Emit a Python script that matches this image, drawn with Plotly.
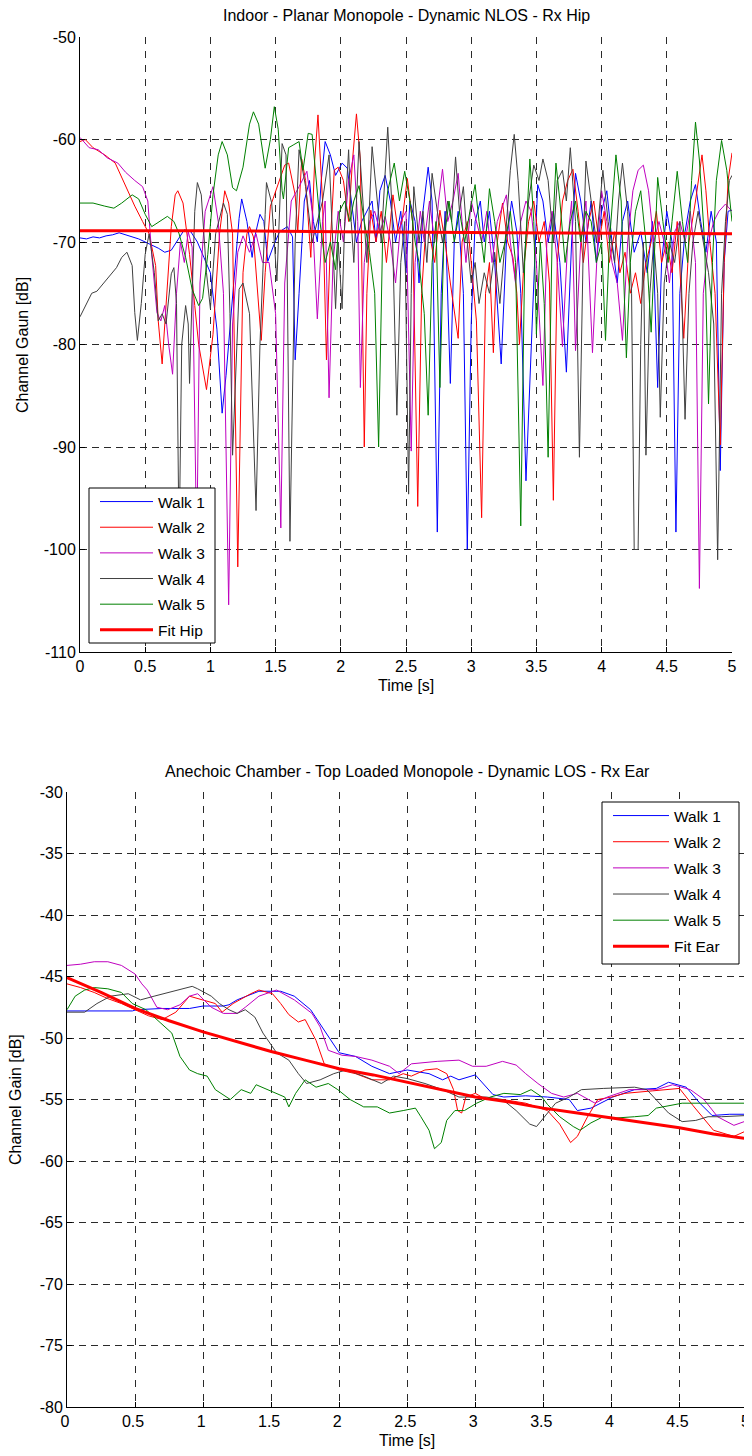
import plotly.graph_objects as go

# ---------------- data ----------------
x_ticks = [0, 0.5, 1, 1.5, 2, 2.5, 3, 3.5, 4, 4.5, 5]
x_tick_text = ["0", "0.5", "1", "1.5", "2", "2.5", "3", "3.5", "4", "4.5", "5"]
hip_y_ticks = [-110, -100, -90, -80, -70, -60, -50]
ear_y_ticks = [-80, -75, -70, -65, -60, -55, -50, -45, -40, -35, -30]

walk_names = ["Walk 1", "Walk 2", "Walk 3", "Walk 4", "Walk 5"]

# Top chart: Indoor, Rx Hip  (time [s], gain [dB])
hip_walk1 = [(0,-69.6),(0.05,-69.7),(0.1,-69.5),(0.15,-69.6),(0.2,-69.4),(0.25,-69.3),(0.3,-69.1),(0.35,-69.3),(0.4,-69.5),(0.45,-69.7),(0.5,-70.0),(0.55,-70.3),(0.6,-70.6),(0.65,-71.0),(0.7,-70.8),(0.75,-69.8),(0.8,-68.8),(0.85,-69.0),(0.9,-70.0),(0.95,-71.5),(1.0,-73.0),(1.05,-78.5),(1.09,-86.7),(1.12,-83),(1.17,-75),(1.22,-67.7),(1.24,-65.8),(1.28,-68.0),(1.32,-71.5),(1.34,-69.5),(1.38,-67.3),(1.41,-68.0),(1.44,-71.9),(1.48,-70.5),(1.53,-69.0),(1.59,-68.5),(1.63,-69.5),(1.65,-81.5),(1.68,-75),(1.72,-66),(1.76,-64),(1.79,-68),(1.82,-70),(1.85,-64),(1.88,-60.2),(1.92,-61.5),(1.96,-63.5),(2.01,-62.3),(2.05,-62.8),(2.08,-66),(2.12,-70),(2.16,-68),(2.2,-67),(2.24,-66),(2.27,-70),(2.3,-65),(2.34,-63.5),(2.38,-66),(2.42,-70),(2.46,-67),(2.5,-73),(2.53,-66),(2.57,-68),(2.6,-74),(2.63,-67),(2.67,-62.7),(2.7,-66),(2.74,-98.3),(2.77,-75),(2.8,-67),(2.84,-83.8),(2.87,-70),(2.9,-67),(2.94,-75),(2.97,-100),(3.0,-78),(3.03,-68),(3.07,-66),(3.1,-70),(3.14,-67),(3.18,-72),(3.23,-81.9),(3.27,-70),(3.31,-66),(3.35,-69),(3.38,-75),(3.42,-93.3),(3.46,-80),(3.51,-64.4),(3.55,-66),(3.59,-70),(3.63,-67),(3.68,-72),(3.73,-82.7),(3.77,-70),(3.8,-63.3),(3.84,-66),(3.88,-70),(3.92,-66),(3.96,-72),(4.0,-67),(4.04,-65),(4.08,-70),(4.12,-74),(4.16,-68),(4.2,-66),(4.25,-71),(4.3,-69),(4.35,-73),(4.39,-68),(4.43,-84.2),(4.46,-72),(4.5,-67),(4.54,-70),(4.57,-98.3),(4.6,-75),(4.64,-69),(4.68,-66),(4.72,-64.4),(4.76,-68),(4.8,-71),(4.84,-67),(4.88,-70),(4.91,-92.3),(4.94,-72),(4.97,-67),(5.0,-66.9)]
hip_walk2 = [(0,-60.2),(0.04,-60.0),(0.1,-60.8),(0.19,-61.5),(0.27,-62.3),(0.35,-64.6),(0.42,-66.5),(0.48,-68.0),(0.53,-69.2),(0.58,-72.3),(0.6,-77.7),(0.63,-81.9),(0.66,-76),(0.7,-68.5),(0.73,-65.4),(0.75,-65.0),(0.79,-66.2),(0.84,-71.2),(0.88,-76.2),(0.91,-80),(0.97,-84.4),(1.02,-79),(1.07,-69.2),(1.11,-65),(1.14,-66.2),(1.17,-69.2),(1.21,-101.7),(1.25,-73),(1.28,-69.2),(1.30,-68.5),(1.33,-69.5),(1.37,-76),(1.39,-79.6),(1.42,-73),(1.46,-66.5),(1.48,-65.8),(1.53,-64),(1.57,-62.5),(1.6,-62.3),(1.63,-64),(1.65,-65.4),(1.67,-69),(1.70,-61.9),(1.73,-64),(1.77,-71.5),(1.8,-62),(1.825,-57.6),(1.86,-66),(1.89,-81.5),(1.92,-70),(1.95,-63),(1.98,-62.7),(2.02,-64),(2.06,-68),(2.09,-62),(2.12,-57.5),(2.15,-62),(2.18,-90),(2.2,-75),(2.23,-66.9),(2.27,-70),(2.31,-67),(2.35,-72),(2.4,-65.4),(2.44,-69),(2.47,-68),(2.51,-63.8),(2.55,-68),(2.59,-95.8),(2.62,-75),(2.65,-69),(2.68,-69.2),(2.72,-72),(2.76,-66.9),(2.8,-70),(2.84,-74),(2.9,-79.4),(2.93,-70),(2.97,-68),(3.0,-72),(3.04,-77.7),(3.08,-96.9),(3.11,-75),(3.14,-72),(3.17,-80.8),(3.2,-70),(3.24,-66.2),(3.28,-70),(3.32,-71.5),(3.35,-75),(3.37,-80),(3.4,-73),(3.44,-68),(3.48,-66),(3.52,-70),(3.56,-68),(3.6,-74),(3.63,-95.2),(3.66,-72),(3.7,-66),(3.74,-64),(3.78,-62.9),(3.82,-67),(3.86,-72),(3.9,-68),(3.94,-66),(3.98,-70),(4.02,-67),(4.06,-72),(4.1,-69),(4.14,-73),(4.18,-71),(4.22,-75),(4.26,-73),(4.3,-76),(4.34,-72),(4.38,-70),(4.42,-67),(4.46,-72),(4.5,-70),(4.54,-73),(4.58,-68),(4.63,-79.4),(4.67,-70),(4.72,-66),(4.77,-61.5),(4.8,-65),(4.83,-70),(4.87,-75),(4.91,-89.8),(4.94,-72),(4.97,-64),(5.0,-61.3)]
hip_walk3 = [(0,-59.8),(0.07,-60.8),(0.14,-61),(0.21,-61.8),(0.29,-62.3),(0.35,-63.2),(0.42,-64),(0.48,-64.6),(0.52,-66),(0.55,-71.2),(0.59,-76.9),(0.62,-77.7),(0.65,-76.2),(0.68,-80),(0.71,-82.9),(0.74,-75),(0.77,-70),(0.8,-72),(0.83,-69),(0.86,-70.5),(0.895,-100),(0.92,-74),(0.96,-67),(1.02,-64.6),(1.06,-68),(1.1,-75),(1.14,-105.4),(1.17,-78),(1.21,-71),(1.25,-69.4),(1.3,-71),(1.35,-69.2),(1.4,-72),(1.45,-72),(1.5,-77),(1.54,-97.9),(1.57,-74),(1.62,-66),(1.68,-64.6),(1.74,-63.1),(1.78,-67),(1.82,-77.5),(1.86,-68),(1.88,-66),(1.91,-85.2),(1.94,-72),(1.98,-67),(2.02,-70),(2.06,-64),(2.1,-61.5),(2.13,-68),(2.15,-84.2),(2.18,-72),(2.22,-68),(2.26,-67),(2.3,-69),(2.34,-67.5),(2.38,-70),(2.42,-74),(2.46,-68),(2.5,-67),(2.54,-90.4),(2.57,-72),(2.61,-67),(2.64,-70),(2.68,-66),(2.72,-70),(2.75,-66),(2.78,-62.9),(2.82,-68),(2.86,-66),(2.9,-63.3),(2.93,-68),(2.96,-72),(3.0,-66),(3.04,-68),(3.08,-70),(3.12,-67),(3.16,-72),(3.2,-68),(3.24,-66.5),(3.27,-65.4),(3.3,-70),(3.34,-74),(3.38,-68),(3.42,-66),(3.46,-67),(3.5,-72),(3.55,-84),(3.58,-70),(3.62,-67),(3.66,-72),(3.7,-80.2),(3.74,-70),(3.77,-66),(3.8,-80.6),(3.84,-70),(3.88,-66),(3.93,-80.8),(3.97,-70),(4.0,-65),(4.04,-68),(4.08,-72),(4.12,-74),(4.16,-79.6),(4.2,-70),(4.24,-65),(4.28,-63),(4.32,-62.5),(4.36,-65),(4.4,-70),(4.44,-68),(4.48,-70),(4.52,-74),(4.56,-69),(4.6,-68),(4.64,-70),(4.68,-67),(4.72,-72),(4.75,-103.8),(4.78,-75),(4.82,-70),(4.86,-68),(4.9,-67),(4.95,-66.3),(5.0,-67)]
hip_walk4 = [(0,-77.3),(0.04,-76.2),(0.09,-75),(0.13,-74.8),(0.17,-74.2),(0.21,-73.5),(0.24,-73.1),(0.28,-72.5),(0.32,-71.5),(0.36,-71),(0.4,-72.3),(0.42,-76.9),(0.44,-79.6),(0.47,-76),(0.5,-71.2),(0.53,-69.2),(0.57,-73),(0.6,-77.7),(0.63,-77),(0.66,-78),(0.7,-73.1),(0.72,-72.5),(0.74,-76),(0.76,-100),(0.78,-80),(0.81,-76.2),(0.83,-78),(0.84,-83.8),(0.86,-75),(0.88,-67),(0.9,-64.2),(0.93,-65.4),(0.97,-73),(1.0,-76.5),(1.04,-69.2),(1.1,-66.2),(1.13,-67.3),(1.15,-77),(1.17,-90.8),(1.2,-80),(1.22,-74.6),(1.25,-74),(1.3,-77),(1.35,-96.2),(1.38,-80),(1.42,-67.3),(1.43,-64.2),(1.47,-66.2),(1.51,-73.8),(1.55,-60.4),(1.58,-61.5),(1.61,-99.2),(1.65,-70),(1.68,-61),(1.73,-64.6),(1.78,-70),(1.82,-68),(1.86,-66),(1.91,-61.5),(1.94,-70),(1.96,-76.5),(1.98,-70),(2.01,-76.5),(2.03,-68),(2.06,-61),(2.08,-68),(2.1,-72),(2.14,-60.2),(2.17,-66),(2.2,-72),(2.24,-60.7),(2.28,-66),(2.31,-70),(2.36,-58.8),(2.39,-66),(2.43,-86.9),(2.46,-72),(2.49,-68),(2.52,-94.6),(2.54,-75),(2.56,-64.6),(2.6,-70),(2.63,-67),(2.66,-72),(2.7,-63.3),(2.74,-67),(2.78,-70),(2.82,-66),(2.85,-68),(2.88,-61.7),(2.91,-67),(2.94,-64.6),(2.97,-70),(3.0,-74),(3.03,-72),(3.06,-76),(3.1,-73),(3.14,-75),(3.18,-71),(3.22,-76),(3.26,-70),(3.3,-63),(3.33,-59.5),(3.36,-64),(3.4,-73),(3.44,-66),(3.48,-62.5),(3.52,-64),(3.55,-61.9),(3.59,-64),(3.63,-70),(3.66,-64),(3.7,-63),(3.73,-66),(3.76,-60.8),(3.8,-68),(3.83,-91),(3.86,-70),(3.88,-62.1),(3.92,-66),(3.96,-70),(4.01,-63),(4.05,-68),(4.1,-72),(4.13,-66),(4.16,-62.3),(4.2,-67),(4.23,-75),(4.25,-100),(4.28,-100),(4.3,-80),(4.32,-70),(4.34,-90.8),(4.37,-75),(4.4,-70),(4.43,-75),(4.45,-87.1),(4.48,-74),(4.52,-70),(4.56,-72),(4.6,-68),(4.64,-87.3),(4.67,-75),(4.7,-70),(4.74,-67),(4.78,-70),(4.82,-73),(4.86,-78),(4.89,-101),(4.92,-75),(4.95,-68),(4.98,-64),(5.0,-63.5)]
hip_walk5 = [(0,-66.2),(0.1,-66.2),(0.19,-66.5),(0.26,-66.7),(0.32,-66.2),(0.4,-65.4),(0.45,-65.8),(0.5,-67.3),(0.55,-68.5),(0.6,-68.1),(0.67,-67.5),(0.72,-68),(0.76,-69.2),(0.81,-71.5),(0.86,-74.6),(0.91,-76.2),(0.94,-75.5),(0.98,-71.2),(1.02,-65.4),(1.06,-61.5),(1.09,-60.2),(1.13,-61.5),(1.17,-64.7),(1.2,-65),(1.25,-62.7),(1.3,-58.5),(1.33,-57.3),(1.37,-58.5),(1.4,-61),(1.42,-62.8),(1.46,-60),(1.49,-56.8),(1.52,-59),(1.55,-65),(1.56,-65.8),(1.6,-60.8),(1.64,-60.5),(1.68,-60.2),(1.71,-63),(1.75,-59.4),(1.78,-59.5),(1.81,-64),(1.84,-68),(1.88,-72),(1.92,-70),(1.96,-72.7),(1.99,-67),(2.03,-66),(2.07,-68),(2.1,-66),(2.14,-64.5),(2.18,-68),(2.22,-71),(2.26,-75),(2.29,-90),(2.32,-70),(2.36,-65),(2.41,-62.3),(2.45,-66),(2.49,-63.1),(2.53,-66),(2.57,-70),(2.6,-72),(2.64,-77),(2.67,-86.9),(2.7,-72),(2.73,-68),(2.76,-84.2),(2.79,-70),(2.83,-66),(2.87,-70),(2.91,-67),(2.95,-70),(2.99,-67),(3.03,-64.4),(3.06,-68),(3.1,-72),(3.14,-64.8),(3.18,-68),(3.22,-72),(3.26,-70),(3.3,-67),(3.34,-72),(3.38,-97.7),(3.41,-72),(3.45,-61.9),(3.48,-68),(3.5,-79),(3.53,-70),(3.56,-76),(3.59,-91),(3.62,-70),(3.65,-62.3),(3.68,-66),(3.72,-72),(3.76,-68),(3.8,-66),(3.84,-70),(3.88,-67),(3.92,-68),(3.96,-72),(4.0,-70),(4.03,-79.6),(4.06,-70),(4.11,-61.5),(4.15,-66),(4.19,-81.3),(4.22,-72),(4.26,-67),(4.3,-65),(4.34,-70),(4.38,-78.8),(4.41,-70),(4.43,-63.7),(4.47,-68),(4.51,-72),(4.54,-68),(4.58,-63.1),(4.62,-68),(4.66,-72),(4.69,-64),(4.72,-58.3),(4.75,-62),(4.79,-70),(4.82,-85.8),(4.85,-72),(4.88,-64),(4.92,-60.1),(4.96,-63),(5.0,-68)]
hip_fit_t = [0, 1, 2, 3, 4, 5]
hip_fit_db = [-68.9, -68.9, -69.0, -69.05, -69.1, -69.2]

# Bottom chart: Anechoic chamber, Rx Ear
ear_walk1 = [(0,-47.8),(0.15,-47.8),(0.3,-47.8),(0.48,-47.8),(0.51,-47.7),(0.7,-47.6),(0.9,-47.6),(1.0,-47.4),(1.15,-47.4),(1.19,-47.3),(1.25,-46.9),(1.35,-46.5),(1.41,-46.2),(1.57,-46.2),(1.67,-46.6),(1.79,-47.7),(1.89,-49.4),(2.0,-51.2),(2.12,-51.5),(2.24,-52.3),(2.37,-52.9),(2.5,-52.6),(2.66,-52.9),(2.76,-53.4),(2.82,-53.1),(2.88,-53.4),(3.0,-53.0),(3.08,-54.0),(3.13,-54.6),(3.21,-54.8),(3.37,-54.7),(3.53,-54.8),(3.69,-55.0),(3.75,-55.9),(3.85,-55.7),(4.01,-54.8),(4.17,-54.2),(4.33,-54.1),(4.42,-53.6),(4.55,-54.0),(4.65,-55.3),(4.74,-56.3),(4.87,-56.2),(5.0,-56.2)]
ear_walk2 = [(0,-45.6),(0.1,-45.9),(0.2,-46.3),(0.3,-46.8),(0.4,-47.2),(0.5,-47.7),(0.6,-48.2),(0.7,-48.5),(0.8,-47.9),(0.9,-46.6),(0.99,-46.9),(1.09,-47.2),(1.14,-47.9),(1.22,-47.2),(1.35,-46.4),(1.41,-46.1),(1.51,-46.4),(1.57,-47.2),(1.63,-48.1),(1.70,-48.7),(1.75,-48.5),(1.83,-50.2),(1.89,-52.1),(2.0,-52.6),(2.12,-52.9),(2.24,-53.4),(2.37,-53.4),(2.47,-52.9),(2.53,-53.1),(2.63,-52.6),(2.72,-52.5),(2.79,-52.9),(2.84,-54.2),(2.87,-55.9),(2.9,-56.1),(2.93,-54.8),(3.0,-54.5),(3.08,-55.0),(3.2,-55.0),(3.37,-55.3),(3.53,-55.9),(3.62,-57.0),(3.7,-58.5),(3.75,-58.0),(3.82,-56.5),(3.9,-55.0),(4.0,-54.8),(4.1,-54.5),(4.3,-54.3),(4.5,-54.1),(4.6,-55.5),(4.75,-57.5),(4.9,-58.0),(5.0,-57.5)]
ear_walk3 = [(0,-44.1),(0.1,-44.0),(0.2,-43.8),(0.3,-43.8),(0.4,-44.1),(0.5,-44.8),(0.55,-45.6),(0.59,-46.1),(0.66,-47.5),(0.74,-47.7),(0.83,-47.3),(0.9,-46.6),(0.96,-46.4),(1.06,-47.5),(1.15,-48.0),(1.25,-48.0),(1.31,-47.5),(1.41,-46.6),(1.54,-46.1),(1.67,-46.9),(1.8,-48.0),(1.86,-49.1),(1.92,-51.0),(2.02,-51.4),(2.12,-51.5),(2.24,-51.8),(2.37,-52.3),(2.44,-52.9),(2.53,-52.1),(2.72,-51.9),(2.88,-51.8),(2.98,-52.3),(3.08,-52.3),(3.2,-51.9),(3.3,-52.2),(3.37,-52.9),(3.46,-53.7),(3.56,-54.5),(3.65,-54.8),(3.75,-54.5),(3.88,-55.3),(3.97,-54.8),(4.13,-54.2),(4.33,-54.2),(4.45,-53.8),(4.58,-54.2),(4.68,-55.0),(4.78,-56.4),(4.9,-57.1),(5.0,-56.7)]
ear_walk4 = [(0,-47.9),(0.13,-47.9),(0.22,-47.2),(0.32,-46.6),(0.45,-46.4),(0.54,-46.9),(0.64,-46.6),(0.75,-46.3),(0.83,-46.1),(0.92,-45.8),(0.96,-46.0),(1.06,-46.6),(1.12,-47.2),(1.19,-47.7),(1.25,-48.0),(1.31,-47.7),(1.38,-48.3),(1.44,-49.6),(1.54,-51.2),(1.63,-51.8),(1.7,-52.9),(1.76,-53.7),(1.86,-53.4),(1.96,-52.9),(2.05,-52.6),(2.18,-53.1),(2.31,-53.7),(2.4,-53.1),(2.5,-53.3),(2.63,-53.7),(2.76,-54.2),(2.88,-54.8),(3.08,-54.8),(3.2,-55.0),(3.3,-55.9),(3.4,-57.0),(3.45,-57.2),(3.51,-56.4),(3.59,-55.3),(3.69,-54.8),(3.78,-54.2),(3.94,-54.1),(4.17,-54.0),(4.26,-54.2),(4.33,-55.0),(4.42,-56.1),(4.52,-56.8),(4.62,-56.7),(4.71,-56.4),(4.81,-56.4),(5.0,-56.3)]
ear_walk5 = [(0,-47.7),(0.06,-46.6),(0.13,-46.1),(0.2,-45.9),(0.3,-46.0),(0.4,-46.3),(0.48,-47.2),(0.58,-47.7),(0.69,-48.8),(0.77,-49.6),(0.83,-51.5),(0.9,-52.6),(0.96,-52.9),(1.03,-53.1),(1.09,-54.2),(1.2,-55.0),(1.28,-54.2),(1.35,-54.5),(1.39,-53.8),(1.47,-54.2),(1.54,-54.5),(1.6,-54.8),(1.63,-55.6),(1.68,-54.5),(1.75,-53.4),(1.83,-54.0),(1.92,-53.7),(1.99,-54.2),(2.08,-55.0),(2.18,-55.6),(2.28,-55.6),(2.37,-56.1),(2.47,-55.9),(2.56,-55.7),(2.6,-56.4),(2.66,-57.5),(2.7,-59.0),(2.75,-58.5),(2.79,-56.7),(2.85,-55.9),(2.92,-55.9),(3.01,-55.3),(3.11,-54.8),(3.21,-54.5),(3.33,-54.6),(3.41,-54.2),(3.49,-54.8),(3.53,-55.4),(3.62,-56.4),(3.72,-57.2),(3.77,-57.5),(3.85,-56.9),(3.94,-56.4),(4.04,-56.5),(4.17,-56.4),(4.27,-56.3),(4.33,-55.7),(4.42,-55.5),(4.52,-55.3),(4.7,-55.3),(5.0,-55.3)]
ear_fit_t = [0, 0.25, 0.5, 0.75, 1.0, 1.25, 1.5, 1.75, 2.0, 2.25, 2.5, 2.75, 3.0, 3.25, 3.5, 3.75, 4.0, 4.25, 4.5, 4.75, 5.0]
ear_fit_db = [-45.1, -46.3, -47.6, -48.6, -49.5, -50.3, -51.1, -51.8, -52.5, -53.0, -53.6, -54.2, -54.8, -55.2, -55.7, -56.1, -56.5, -56.9, -57.3, -57.8, -58.2]

# ---------------- styling ----------------
PAGE_W, PAGE_H = 752, 1456
BODY = 8                       # default page margin around the plot div
W, H = PAGE_W - BODY, PAGE_H - BODY
FONT = "Liberation Sans, Arial, Helvetica, sans-serif"
walk_colors = ["#0000FF", "#FF0000", "#BF00BF", "#404040", "#008000"]
FIT_COLOR = "#FF0000"


def fx(p):
    """page pixel x -> paper fraction"""
    return (p - BODY) / W


def fy(p):
    """page pixel y -> paper fraction"""
    return 1 - (p - BODY) / H


fig = go.Figure()

hip_walks = [hip_walk1, hip_walk2, hip_walk3, hip_walk4, hip_walk5]
ear_walks = [ear_walk1, ear_walk2, ear_walk3, ear_walk4, ear_walk5]

for i, (name, pts) in enumerate(zip(walk_names, hip_walks)):
    fig.add_trace(go.Scatter(
        x=[p[0] for p in pts], y=[p[1] for p in pts], mode="lines", name=name,
        line=dict(color=walk_colors[i], width=1), xaxis="x", yaxis="y",
        legend="legend", legendgroup="h%d" % i))
fig.add_trace(go.Scatter(
    x=hip_fit_t, y=hip_fit_db, mode="lines", name="Fit Hip",
    line=dict(color=FIT_COLOR, width=3), xaxis="x", yaxis="y",
    legend="legend", legendgroup="hfit"))

for i, (name, pts) in enumerate(zip(walk_names, ear_walks)):
    fig.add_trace(go.Scatter(
        x=[p[0] for p in pts], y=[p[1] for p in pts], mode="lines", name=name,
        line=dict(color=walk_colors[i], width=1), xaxis="x2", yaxis="y2",
        legend="legend2", legendgroup="e%d" % i))
fig.add_trace(go.Scatter(
    x=ear_fit_t, y=ear_fit_db, mode="lines", name="Fit Ear",
    line=dict(color=FIT_COLOR, width=3), xaxis="x2", yaxis="y2",
    legend="legend2", legendgroup="efit"))

tick_font = dict(family=FONT, size=16, color="#000000")
common = dict(showline=True, linecolor="#000000", linewidth=1, mirror=False,
              ticks="inside", ticklen=5, tickcolor="#000000", tickwidth=1,
              showgrid=True, gridcolor="#2a2a2a", gridwidth=1, zeroline=False,
              tickfont=tick_font, fixedrange=True, automargin=False,
              ticklabeloverflow="allow")

fig.update_layout(
    template="none",
    width=W, height=H, margin=dict(l=0, r=0, t=0, b=0, pad=0),
    paper_bgcolor="white", plot_bgcolor="white", showlegend=True,
    xaxis=dict(domain=[fx(80), fx(732)], anchor="y", range=[0, 5],
               tickvals=x_ticks, ticktext=x_tick_text, griddash="7px,7px", **common),
    yaxis=dict(domain=[fy(652), fy(37)], anchor="x", range=[-110, -50],
               tickvals=hip_y_ticks, ticktext=[str(v) for v in hip_y_ticks],
               griddash="7px,5px", **common),
    xaxis2=dict(domain=[fx(67), fx(747.5)], anchor="y2", range=[0, 5],
                tickvals=x_ticks, ticktext=x_tick_text, griddash="7px,7px",
                ticklabelshift=-2, **common),
    yaxis2=dict(domain=[fy(1407), fy(792)], anchor="x2", range=[-80, -30],
                tickvals=ear_y_ticks, ticktext=[str(v) for v in ear_y_ticks],
                griddash="7px,5px", **common),
    legend=dict(x=fx(95), y=fy(485), xanchor="left", yanchor="top", itemwidth=53,
                bgcolor="rgba(0,0,0,0)", borderwidth=0, tracegroupgap=2.5,
                font=dict(family=FONT, size=15.5, color="#000000")),
    legend2=dict(x=fx(608), y=fy(799), xanchor="left", yanchor="top", itemwidth=56,
                 bgcolor="rgba(0,0,0,0)", borderwidth=0, tracegroupgap=3,
                 font=dict(family=FONT, size=15.5, color="#000000")),
    shapes=[
        dict(type="rect", xref="paper", yref="paper", x0=fx(89), x1=fx(215),
             y0=fy(643), y1=fy(488), fillcolor="white",
             line=dict(color="#000000", width=1), layer="above"),
        dict(type="rect", xref="paper", yref="paper", x0=fx(602), x1=fx(739),
             y0=fy(964), y1=fy(802), fillcolor="white",
             line=dict(color="#000000", width=1), layer="above"),
    ],
    annotations=[
        dict(text="Indoor - Planar Monopole - Dynamic NLOS - Rx Hip", xref="paper", yref="paper",
             x=fx(406), y=fy(16), xanchor="center", yanchor="middle", showarrow=False,
             font=dict(family=FONT, size=16, color="#000000")),
        dict(text="Time [s]", xref="paper", yref="paper", x=fx(406), y=fy(685),
             xanchor="center", yanchor="middle", showarrow=False,
             font=dict(family=FONT, size=16, color="#000000")),
        dict(text="Channel Gaun [dB]", xref="paper", yref="paper", x=fx(22), y=fy(345),
             xanchor="center", yanchor="middle", showarrow=False, textangle=-90,
             font=dict(family=FONT, size=16, color="#000000")),
        dict(text="Anechoic Chamber - Top Loaded Monopole - Dynamic LOS - Rx Ear", xref="paper",
             yref="paper", x=fx(407), y=fy(771), xanchor="center", yanchor="middle",
             showarrow=False, font=dict(family=FONT, size=16, color="#000000")),
        dict(text="Time [s]", xref="paper", yref="paper", x=fx(407), y=fy(1440),
             xanchor="center", yanchor="middle", showarrow=False,
             font=dict(family=FONT, size=16, color="#000000")),
        dict(text="Channel Gain [dB]", xref="paper", yref="paper", x=fx(15), y=fy(1100),
             xanchor="center", yanchor="middle", showarrow=False, textangle=-90,
             font=dict(family=FONT, size=16, color="#000000")),
    ],
)

fig.write_html("out.html")
